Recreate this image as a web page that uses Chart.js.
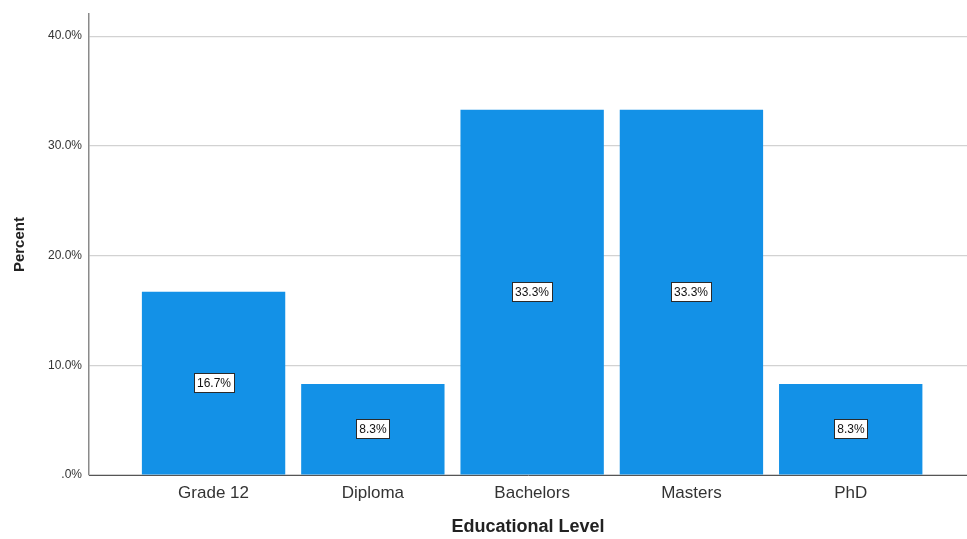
<!DOCTYPE html>
<html>
<head>
<meta charset="utf-8">
<script src="https://cdn.jsdelivr.net/npm/chart.js@4/dist/chart.umd.min.js"></script>
<style>
  body { margin: 0; background: #fff; }
  #chart { display: block; }
</style>
</head>
<body>
<canvas id="chart" width="967" height="539"></canvas>
<script>
const categories = ['Grade 12', 'Diploma', 'Bachelors', 'Masters', 'PhD'];
const percents = [16.7, 8.3, 33.3, 33.3, 8.3];
const yTicks = [0, 10, 20, 30, 40];

const FONT = '"Liberation Sans", Arial, sans-serif';

// white boxed value labels in the middle of each bar
const barLabels = {
    id: 'barLabels',
    afterDatasetsDraw(chart) {
        const ctx = chart.ctx;
        const meta = chart.getDatasetMeta(0);
        ctx.save();
        ctx.font = '12px ' + FONT;
        ctx.textAlign = 'center';
        ctx.textBaseline = 'middle';
        meta.data.forEach((bar, i) => {
            const text = percents[i].toFixed(1) + '%';
            const w = Math.round(ctx.measureText(text).width) + 6;
            const h = 19;
            const cx = Math.round(bar.x);
            const cy = Math.round((bar.y + bar.base) / 2);
            const x0 = cx - Math.round(w / 2) + 0.5;
            const y0 = cy - Math.round(h / 2) + 0.5;
            ctx.fillStyle = '#ffffff';
            ctx.fillRect(x0, y0, w, h);
            ctx.strokeStyle = '#2a2a2a';
            ctx.lineWidth = 1;
            ctx.strokeRect(x0, y0, w, h);
            ctx.fillStyle = '#111';
            ctx.fillText(text, cx, cy + 1);
        });
        ctx.restore();
    }
};

new Chart(document.getElementById('chart'), {
    type: 'bar',
    data: {
        datasets: [{
            data: percents.map((v, i) => ({ x: i, y: v })),
            backgroundColor: '#1391E7',
            borderWidth: 0,
            barPercentage: 0.9,
            categoryPercentage: 1.0
        }]
    },
    options: {
        responsive: false,
        animation: false,
        layout: { padding: { top: 4, right: 0, left: 0, bottom: 0 } },
        plugins: {
            legend: { display: false },
            tooltip: { enabled: false }
        },
        scales: {
            x: {
                type: 'linear',
                offset: false,
                min: -0.782,
                max: 4.73,
                afterFit(scale) { scale.height = 64; },
                afterBuildTicks(scale) {
                    scale.ticks = categories.map((c, i) => ({ value: i }));
                },
                grid: { display: false, drawTicks: false },
                border: { color: '#555', width: 1 },
                ticks: {
                    autoSkip: false,
                    maxRotation: 0,
                    padding: 8,
                    color: '#333',
                    font: { family: FONT, size: 17 },
                    callback: (v) => categories[v]
                },
                title: {
                    display: true,
                    text: 'Educational Level',
                    color: '#222',
                    font: { family: FONT, size: 18, weight: 'bold', lineHeight: 1.2 },
                    padding: { top: 0, bottom: 1 }
                }
            },
            y: {
                min: 0,
                max: 42.0,
                afterFit(scale) { scale.width = 89; },
                afterBuildTicks(scale) {
                    scale.ticks = yTicks.map(v => ({ value: v }));
                },
                grid: { color: '#d2d2d2', lineWidth: 1.2, drawTicks: false },
                border: { color: '#8a8a8a', width: 1.5 },
                ticks: {
                    padding: 7,
                    color: '#333',
                    font: { family: FONT, size: 12 },
                    callback: (v) => (v === 0 ? '.0%' : v.toFixed(1) + '%')
                },
                title: {
                    display: true,
                    text: 'Percent',
                    color: '#222',
                    font: { family: FONT, size: 15, weight: 'bold', lineHeight: 1.2 },
                    padding: { top: 11, bottom: 0 }
                }
            }
        }
    },
    plugins: [barLabels]
});
</script>
</body>
</html>
